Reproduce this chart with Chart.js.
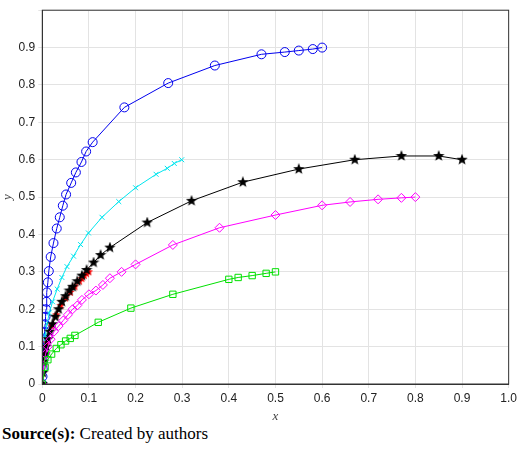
<!DOCTYPE html>
<html><head><meta charset="utf-8">
<script src="https://cdn.jsdelivr.net/npm/chart.js@4"></script>
<style>
body{margin:0;background:#fff;width:520px;height:459px;overflow:hidden}
#wrap{position:relative;width:520px;height:424px}
#cap{font-family:"Liberation Serif",serif;font-size:17px;margin:0 0 0 2px}
</style></head><body>
<div id="wrap"><canvas id="myChart"></canvas></div>
<div id="cap"><b>Source(s):</b> Created by authors</div>
<script>
// series values
var blueX = [0,0.0005,0.001,0.0015,0.002,0.003,0.004,0.005,0.006,0.007,0.008,0.009,0.010,0.012,0.014,0.018,0.024,0.031,0.0375,0.044,0.051,0.062,0.072,0.084,0.094,0.108,0.176,0.27,0.37,0.47,0.52,0.55,0.58,0.6];
var blueY = [0,0.02,0.04,0.06,0.08,0.10,0.12,0.14,0.16,0.18,0.20,0.22,0.245,0.272,0.302,0.340,0.377,0.416,0.446,0.477,0.507,0.538,0.566,0.594,0.622,0.647,0.74,0.805,0.852,0.882,0.888,0.892,0.896,0.9];
var cyanX = [0,0.001,0.003,0.006,0.01,0.015,0.022,0.032,0.042,0.053,0.067,0.082,0.099,0.128,0.164,0.2,0.244,0.268,0.283,0.299];
var cyanY = [0,0.05,0.09,0.13,0.16,0.19,0.22,0.254,0.285,0.314,0.342,0.373,0.404,0.446,0.488,0.525,0.561,0.577,0.59,0.6];
var blackX = [0,0.001,0.003,0.005,0.008,0.012,0.016,0.022,0.028,0.035,0.042,0.05,0.058,0.065,0.075,0.085,0.095,0.11,0.125,0.145,0.225,0.32,0.43,0.55,0.67,0.77,0.85,0.9];
var blackY = [0,0.03,0.06,0.08,0.10,0.12,0.14,0.16,0.18,0.20,0.22,0.235,0.25,0.26,0.275,0.29,0.305,0.325,0.345,0.365,0.432,0.49,0.54,0.575,0.60,0.61,0.61,0.60];
var redX = [0,0.005,0.01,0.02,0.03,0.04,0.05,0.06,0.07,0.08,0.085,0.09,0.095,0.1];
var redY = [0,0.08,0.11,0.155,0.185,0.21,0.23,0.245,0.26,0.275,0.282,0.29,0.295,0.3];
var magX = [0,0.003,0.007,0.012,0.018,0.025,0.035,0.045,0.055,0.065,0.075,0.085,0.1,0.115,0.13,0.145,0.17,0.2,0.28,0.38,0.5,0.6,0.66,0.72,0.77,0.8];
var magY = [0,0.05,0.08,0.10,0.12,0.14,0.155,0.17,0.185,0.20,0.21,0.225,0.24,0.25,0.265,0.283,0.30,0.32,0.372,0.418,0.452,0.478,0.487,0.494,0.498,0.5];
var grnX = [0,0.006,0.012,0.02,0.03,0.04,0.05,0.06,0.07,0.12,0.19,0.28,0.4,0.42,0.45,0.48,0.5];
var grnY = [0,0.045,0.065,0.08,0.095,0.105,0.115,0.122,0.13,0.165,0.203,0.24,0.28,0.285,0.29,0.296,0.3];

function pts(xs, ys) { return xs.map(function (x, i) { return {x: x, y: ys[i]}; }); }

function starImg(size, color) {
  var c = document.createElement('canvas');
  c.width = size; c.height = size;
  var g = c.getContext('2d'), r = size / 2, ri = r * 0.42;
  g.beginPath();
  for (var i = 0; i < 10; i++) {
    var a = -Math.PI / 2 + i * Math.PI / 5, rr = i % 2 ? ri : r;
    g.lineTo(r + rr * Math.cos(a), r + rr * Math.sin(a));
  }
  g.closePath(); g.fillStyle = color; g.fill();
  return c;
}

function ds(xs, ys, color, style, radius) {
  return {data: pts(xs, ys), borderColor: color, backgroundColor: 'rgba(0,0,0,0)',
    pointBorderColor: color, pointStyle: style, pointRadius: radius, pointBorderWidth: 1,
    borderWidth: 1, tension: 0, showLine: true};
}

const config = {
  type: 'scatter',
  data: {
    datasets: [
      ds(grnX, grnY, '#00e000', 'rect', 4.5),
      ds(magX, magY, '#ff00ff', 'rectRot', 4.5),
      ds(blackX, blackY, '#000000', starImg(12, '#000'), 6),
      ds(redX, redY, '#ff0000', starImg(9, '#f00'), 4),
      ds(cyanX, cyanY, '#00e5ee', 'crossRot', 3.5),
      ds(blueX, blueY, '#0000ee', 'circle', 4.5)
    ]
  },
  options: {
    responsive: true, maintainAspectRatio: false, animation: false,
    layout: {padding: {right: 2, top: 4}},
    plugins: {legend: {display: false}, tooltip: {enabled: false}},
    scales: {
      x: {
        type: 'linear', min: 0, max: 1,
        ticks: {stepSize: 0.1, color: '#222', font: {family: 'Liberation Sans', size: 12}},
        grid: {color: '#e3e3e3', tickLength: 4},
        border: {color: '#333'},
        title: {display: true, text: 'x', padding: 0, color: '#444', font: {family: 'Liberation Serif', style: 'italic', size: 13}}
      },
      y: {
        min: 0, max: 1,
        ticks: {stepSize: 0.1, color: '#222', font: {family: 'Liberation Sans', size: 12},
          callback: function (v) { return v > 0.95 ? '' : Math.round(v * 10) / 10; }},
        grid: {color: '#e3e3e3', tickLength: 4},
        border: {color: '#333'},
        title: {display: true, text: 'y', padding: 0, color: '#444', font: {family: 'Liberation Serif', style: 'italic', size: 13}}
      }
    }
  },
  plugins: [{
    id: 'box',
    afterDraw: function (c) {
      var a = c.chartArea, g = c.ctx;
      g.save(); g.strokeStyle = '#333'; g.lineWidth = 1;
      g.strokeRect(a.left, a.top, a.right - a.left, a.bottom - a.top);
      g.restore();
    }
  }]
};

var chart = new Chart('myChart', config);
</script>
</body></html>
